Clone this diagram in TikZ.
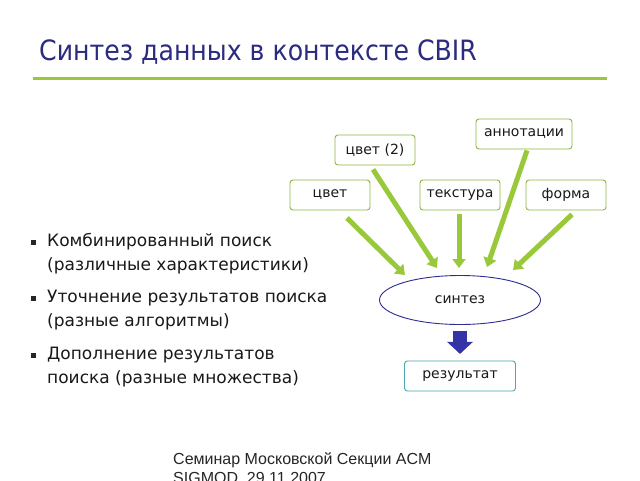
\documentclass[tikz,border=0pt]{standalone}
\usepackage{fontspec}
\setmainfont{DejaVu Sans}
\newfontfamily\footfont{Liberation Sans}
\newfontfamily\titlefont{DejaVu Sans Condensed}
\usetikzlibrary{shapes.geometric,arrows.meta}
\definecolor{titleblue}{HTML}{2B2B80}
\definecolor{lgreen}{HTML}{99C93A}
\definecolor{boxgreen}{HTML}{8CB83E}
\definecolor{navy}{HTML}{2E2E90}
\definecolor{teal}{HTML}{4AA8B0}
\definecolor{fatblue}{HTML}{3434A8}
\tikzset{
  feat/.style={draw=boxgreen, line width=0.9pt, rounded corners=3pt, fill=white,
    minimum width=80pt, minimum height=30pt, inner sep=2pt, font=\fontsize{14}{16}\selectfont, text=black!90},
  garrow/.style={draw=lgreen, line width=5pt, -{Triangle[length=9pt,width=13pt]}},
  bul/.style={anchor=west, font=\fontsize{17}{24}\selectfont, text=black!90, align=left, inner sep=0pt},
}
\begin{document}
\begin{tikzpicture}[x=1pt,y=-1pt]
\useasboundingbox[fill=white] (0,0) rectangle (640,480);
\node[anchor=west, text=titleblue, font=\titlefont\fontsize{28}{32}\selectfont, inner sep=0pt] (title) at (39,52) {Синтез данных в контексте CBIR};
\draw[lgreen, line width=3pt] (33,78) coordinate (l1) -- (607,78) coordinate (l2);

\node[feat] (cvet) at (330,195) {цвет};
\node[feat] (cvet2) at (375,150) {цвет (2)};
\node[feat] (tex) at (460,195) {текстура};
\node[feat, minimum width=96pt] (ann) at (524,134) {аннотации};
\node[feat] (form) at (566,195) {форма};

\node[ellipse, draw=navy, line width=0.9pt, minimum width=161pt, minimum height=49pt, font=\fontsize{14}{16}\selectfont, text=black!90] (syn) at (460,300) {синтез};
\node[draw=teal, line width=0.9pt, rounded corners=3pt, minimum width=111pt, minimum height=30pt, font=\fontsize{14}{16}\selectfont, text=black!90] (res) at (460,376) {результат};

\coordinate (t1) at (405,275);
\coordinate (t2) at (437,268);
\coordinate (t3) at (459,268);
\coordinate (t4) at (487,267);
\coordinate (t5) at (513,270);
\draw[garrow] (347,218) -- (t1);
\draw[garrow] (cvet2.south) ++(-2,4) -- (t2);
\draw[garrow] (tex.south) ++(-1,4) -- (t3);
\draw[garrow] (ann.south) ++(3,1) -- (t4);
\draw[garrow] (form.south) ++(6,4) -- (t5);

\draw[fatblue, line width=14pt, -{Triangle[length=12pt,width=25pt]}] (syn.south) ++(0,6) -- ++(0,23);

\foreach \y in {242,298,355} \fill[black!85] (31,\y-2.5) rectangle ++(5,5);
\node[bul] (b1) at (47,254) {Комбинированный поиск\\(различные характеристики)};
\node[bul] (b2) at (47,310) {Уточнение результатов поиска\\(разные алгоритмы)};
\node[bul] (b3) at (47,367) {Дополнение результатов\\поиска (разные множества)};

\node[anchor=west, font=\footfont\fontsize{16}{19}\selectfont, align=left, inner sep=0pt, text=black!85] (foot) at (173,469) {Семинар Московской Секции ACM\\SIGMOD, 29.11.2007};
\end{tikzpicture}
\end{document}
